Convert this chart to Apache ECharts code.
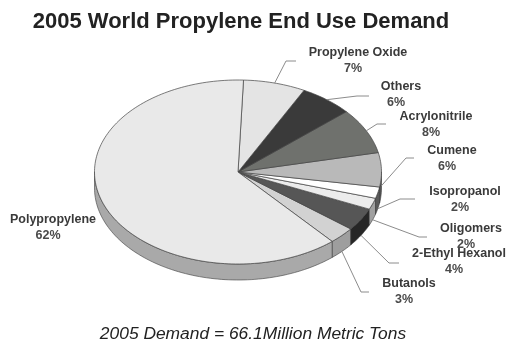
<!DOCTYPE html>
<html>
<head>
<meta charset="utf-8">
<style>html,body{margin:0;padding:0;background:#fff}#chart{width:508px;height:344px}</style>
<script src="https://cdn.jsdelivr.net/npm/echarts@6/dist/echarts.min.js"></script>
</head>
<body>
<div id="chart"></div>
<script>
// End uses of propylene, in the clockwise drawing order used for the tilted pie.
const categories = ['Butanols', '2-Ethyl Hexanol', 'Oligomers', 'Isopropanol', 'Cumene', 'Acrylonitrile', 'Others', 'Propylene Oxide', 'Polypropylene'];
const shares = [3, 4, 2, 2, 6, 8, 6, 7, 62];

const topColors = ['#d2d2d2', '#565656', '#ececec', '#ffffff', '#b9b9b9', '#6f716d', '#3a3a3a', '#e4e4e4', '#e9e9e9'];
const sideColors = ['#9e9e9e', '#262626', '#a0a0a0', '#5a5a5a', '#555555', '#444444', '#222222', '#999999', '#a9a9a9'];

// Label anchors and leader elbows, in page pixels.
const labelAnchors = [[409, 284], [459, 254], [471, 229], [465, 192], [452, 151], [436, 117], [401, 87], [358, 53], [53, 220]];
const leaderElbows = [
  [[361, 292], [369, 292]], [[389, 263], [399, 263]], [[419, 237], [427, 237]],
  [[400, 199], [415, 199]], [[406, 158], [414, 158]], [[377, 124], [386, 124]],
  [[357, 96], [369, 96]], [[286, 61], [296, 61]], null
];

const cx = 238, cy = 172, rx = 143.5, ry = 92, depth = 16;
const startAngle = 139; // degrees clockwise from the top, where the first slice begins
const total = shares.reduce((a, b) => a + b, 0);
const labelFont = 'bold 12.5px "Liberation Sans", Arial, sans-serif';

// A point on the tilted rim, angle in degrees clockwise from the top.
function rim(angle, drop) {
  const r = angle * Math.PI / 180;
  return [cx + rx * Math.sin(r), cy - ry * Math.cos(r) + (drop || 0)];
}
function arcPoints(from, to, drop) {
  const pts = [];
  const n = Math.max(2, Math.ceil(Math.abs(to - from) / 1.5));
  for (let i = 0; i <= n; i++) pts.push(rim(from + (to - from) * i / n, drop));
  return pts;
}

function renderSlice(params, api) {
  const i = params.dataIndex;
  let before = 0;
  for (let k = 0; k < i; k++) before += shares[k];
  const share = api.value(1);
  const a1 = startAngle - before / total * 360;
  const a0 = a1 - share / total * 360;
  const children = [];

  // Outer wall: only the part of the rim facing the viewer (90 to 270 degrees).
  [0, 360].forEach(turn => {
    const u = Math.max(a0 + turn, 90), v = Math.min(a1 + turn, 270);
    if (v > u) {
      children.push({
        type: 'polygon',
        shape: { points: arcPoints(u, v, 0).concat(arcPoints(v, u, depth)) },
        style: { fill: sideColors[i], stroke: '#3c3c3c', lineWidth: 0.6 }
      });
    }
  });

  // Top face.
  children.push({
    type: 'polygon',
    shape: { points: [[cx, cy]].concat(arcPoints(a0, a1, 0)) },
    style: { fill: topColors[i], stroke: '#444444', lineWidth: 0.7 }
  });

  // Leader line from the rim to the label.
  const mid = (a0 + a1) / 2;
  const elbows = leaderElbows[i];
  if (elbows) {
    const from = rim(mid, mid > 85 ? depth : 0);
    children.push({
      type: 'polyline',
      shape: { points: [from].concat(elbows) },
      style: { fill: null, stroke: '#8c8c8c', lineWidth: 1 }
    });
  }

  // Name and percentage.
  const [lx, ly] = labelAnchors[i];
  children.push({
    type: 'text',
    style: { x: lx, y: ly, text: api.value(0), font: labelFont, fill: '#3a3a3a', align: 'center', verticalAlign: 'middle' }
  });
  children.push({
    type: 'text',
    style: { x: lx - 5, y: ly + 16, text: share + '%', font: labelFont, fill: '#4a4a4a', align: 'center', verticalAlign: 'middle' }
  });
  return { type: 'group', children };
}

const chart = echarts.init(document.getElementById('chart'), null, { renderer: 'canvas' });
chart.setOption({
  animation: false,
  backgroundColor: '#ffffff',
  title: [
    {
      text: '2005 World Propylene End Use Demand',
      left: 236, top: 6, textAlign: 'center',
      textStyle: { fontFamily: '"Liberation Sans", Arial, sans-serif', fontWeight: 'bold', fontSize: 22, color: '#222222' }
    },
    {
      text: '2005 Demand = 66.1Million Metric Tons',
      left: 248, top: 321, textAlign: 'center',
      textStyle: { fontFamily: '"Liberation Sans", Arial, sans-serif', fontStyle: 'italic', fontWeight: 'normal', fontSize: 17.4, color: '#222222' }
    }
  ],
  series: [{
    type: 'custom',
    coordinateSystem: 'none',
    renderItem: renderSlice,
    data: categories.map((name, i) => [name, shares[i]]),
    encode: { value: 1 }
  }]
});
</script>
</body>
</html>
